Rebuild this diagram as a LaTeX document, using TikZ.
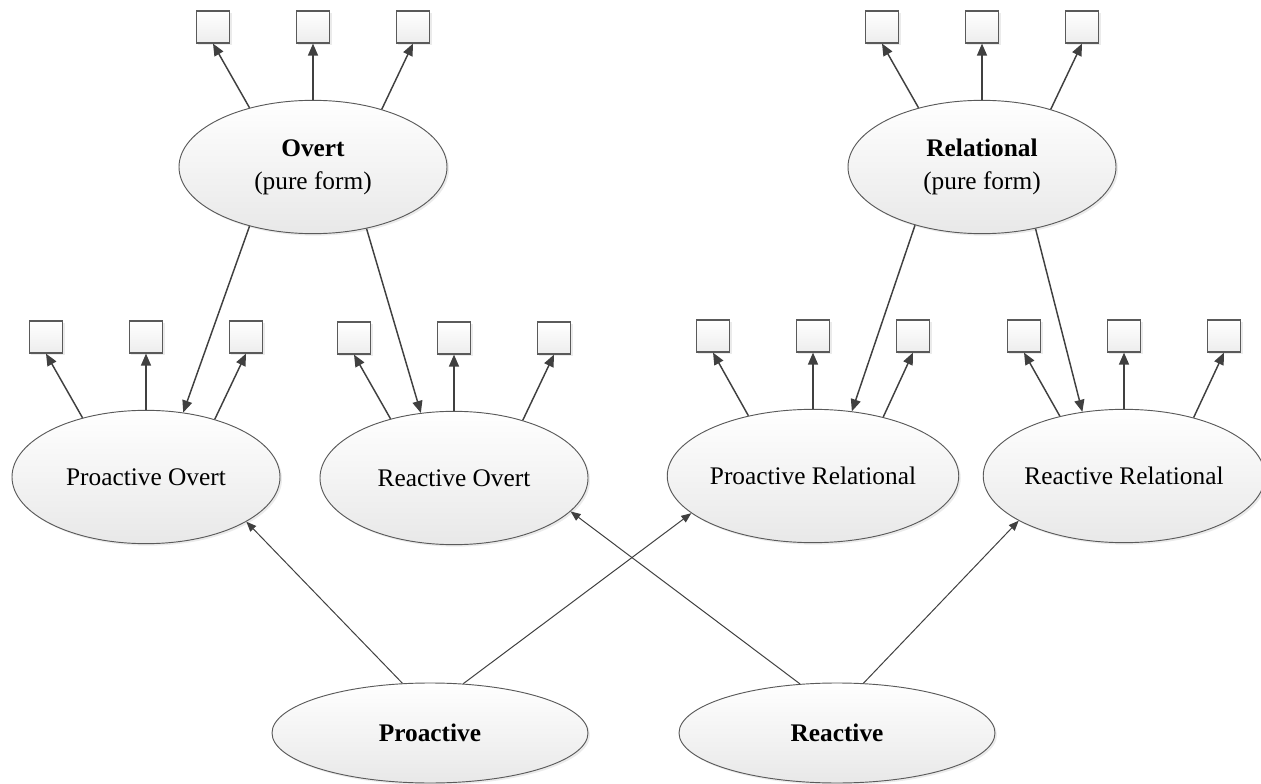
\documentclass[tikz,border=0pt]{standalone}
\usepackage{fontspec}
\setmainfont{Liberation Serif}
\usetikzlibrary{arrows.meta, calc, shapes.geometric, shadows}
\definecolor{lgray}{RGB}{64,64,64}
\definecolor{egray}{RGB}{90,90,90}

\begin{document}
\begin{tikzpicture}[x=0.75pt, y=-0.75pt,
  form/.style={ellipse,draw=egray,line width=0.7pt,top color=white,bottom color=black!9,
               minimum width=201pt,minimum height=100pt,inner sep=0pt,align=center,
               font=\fontsize{19}{25}\selectfont,
               drop shadow={shadow xshift=1.5pt,shadow yshift=-1.5pt,opacity=0.2,fill=black!40}},
  motive/.style={form,minimum width=237pt,minimum height=75pt,
                 font=\fontsize{19}{25}\selectfont\bfseries},
  item/.style={rectangle,draw=egray,line width=0.9pt,top color=white,bottom color=black!7,
               minimum width=25pt,minimum height=24pt,inner sep=0pt,
               drop shadow={shadow xshift=1.5pt,shadow yshift=-1.5pt,opacity=0.2,fill=black!40}},
  arr/.style={-{Triangle[length=9pt,width=7.5pt]},lgray,line width=1.1pt},
  infl/.style={-{Triangle[length=7.5pt,width=6pt]},lgray,line width=0.75pt}
]
\useasboundingbox (0,0) rectangle (1261,784);

% pure forms
\node[form] (ovt) at (313,167) {\textbf{Overt}\\(pure form)};
\node[form] (rel) at (982,167) {\textbf{Relational}\\(pure form)};

% combined forms
\node[form] (pov)  at (146,477)  {Proactive Overt};
\node[form] (rov)  at (454,478)  {Reactive Overt};
\node[form] (prel) at (813,476)  {Proactive Relational};
\node[form] (rrel) at (1124,476) {Reactive Relational};

% functions
\node[motive] (pro) at (430,733) {Proactive};
\node[motive] (rea) at (837,733) {Reactive};

% indicators
\foreach \p in {ovt,rel,pov,rov,prel,rrel}{
  \node[item] (\p1) at ($(\p)+(-100,-140)$) {};
  \node[item] (\p2) at ($(\p)+(0,-140)$) {};
  \node[item] (\p3) at ($(\p)+(100,-140)$) {};
  \draw[arr] (\p.137) -- (\p1.south);
  \draw[arr] (\p.90)  -- (\p2.south);
  \draw[arr] (\p.40)  -- (\p3.south);
}

\draw[arr] (ovt.223) -- (pov.60);
\draw[arr] (ovt.311) -- (rov.117);
\draw[arr] (rel.221) -- (prel.59);
\draw[arr] (rel.311) -- (rrel.123);

\draw[infl] (pro.119) -- (pov.336);
\draw[infl] (pro.56)  -- (prel.197);
\draw[infl] (rea.127) -- (rov.344);
\draw[infl] (rea.62)  -- (rrel.203);
\end{tikzpicture}
\end{document}
